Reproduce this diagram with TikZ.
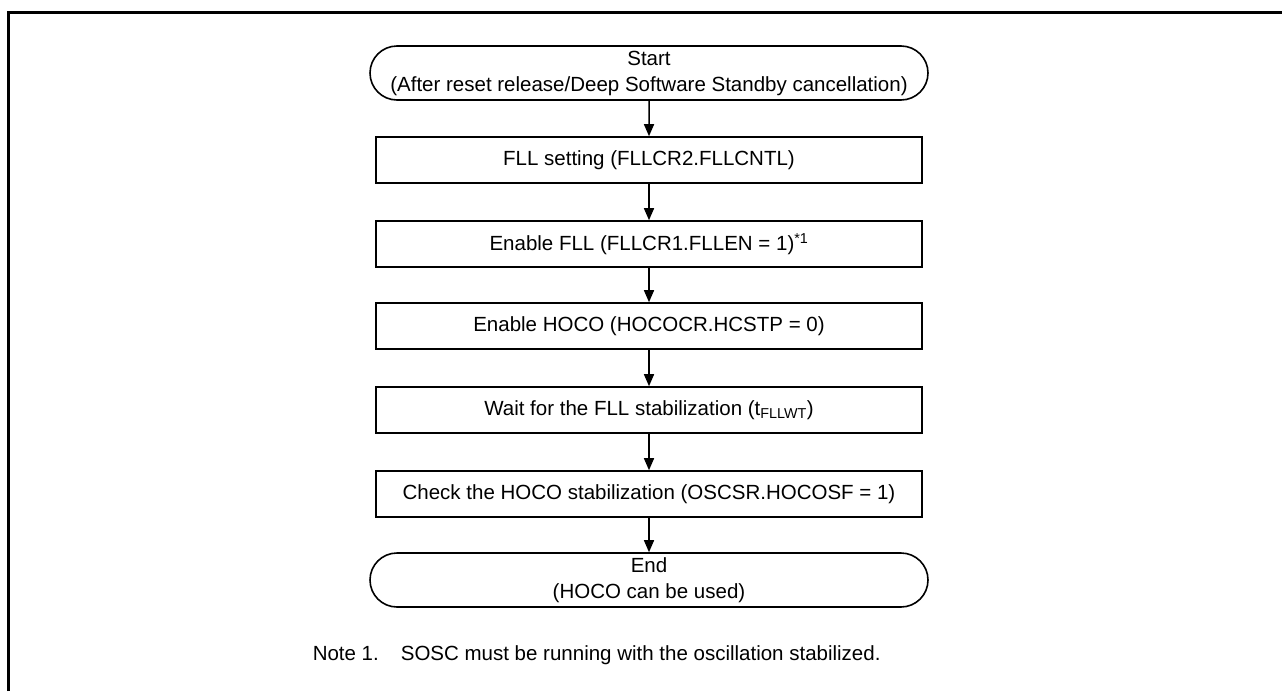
\documentclass[tikz,border=0pt]{standalone}
\usepackage{fontspec}
\setmainfont{Liberation Sans}
\usetikzlibrary{arrows.meta,shapes.misc}

\begin{document}
\begin{tikzpicture}[x=1pt, y=-1pt,
  proc/.style={draw, line width=1.6pt, minimum width=546pt, minimum height=46pt,
               inner sep=0pt, font=\fontsize{20.5}{26}\selectfont},
  term/.style={draw, rounded rectangle, line width=1.6pt, minimum width=558pt,
               minimum height=54pt, inner sep=0pt, align=center,
               font=\fontsize{20.5}{26}\selectfont},
  >={Triangle[length=12pt, width=10pt]}, line width=1.5pt
]
  \useasboundingbox (0,0) rectangle (1282,691);
  \draw[line width=3pt] (8,691) -- (8,12) -- (1282,12);

  \node[term] (start) at (649,73)  {Start\\(After reset release/Deep Software Standby cancellation)};
  \node[proc] (fllset) at (649,160) {FLL setting (FLLCR2.FLLCNTL)};
  \node[proc] (fllen)  at (649,244) {Enable FLL (FLLCR1.FLLEN = 1)\textsuperscript{*1}};
  \node[proc] (hocoen) at (649,326) {Enable HOCO (HOCOCR.HCSTP = 0)};
  \node[proc] (fllwait) at (649,410) {Wait for the FLL stabilization (t\textsubscript{FLLWT})};
  \node[proc] (hocochk) at (649,494) {Check the HOCO stabilization (OSCSR.HOCOSF = 1)};
  \node[term] (end) at (649,580)  {End\\(HOCO can be used)};

  \node[anchor=base west, inner sep=0pt, font=\fontsize{20.5}{25}\selectfont] (note) at (312,660)
    {Note 1.\hspace{22pt}SOSC must be running with the oscillation stabilized.};

  \foreach \from/\to in {start/fllset, fllset/fllen, fllen/hocoen, hocoen/fllwait,
                         fllwait/hocochk, hocochk/end}
    \draw[->] (\from) -- (\to);
\end{tikzpicture}
\end{document}
